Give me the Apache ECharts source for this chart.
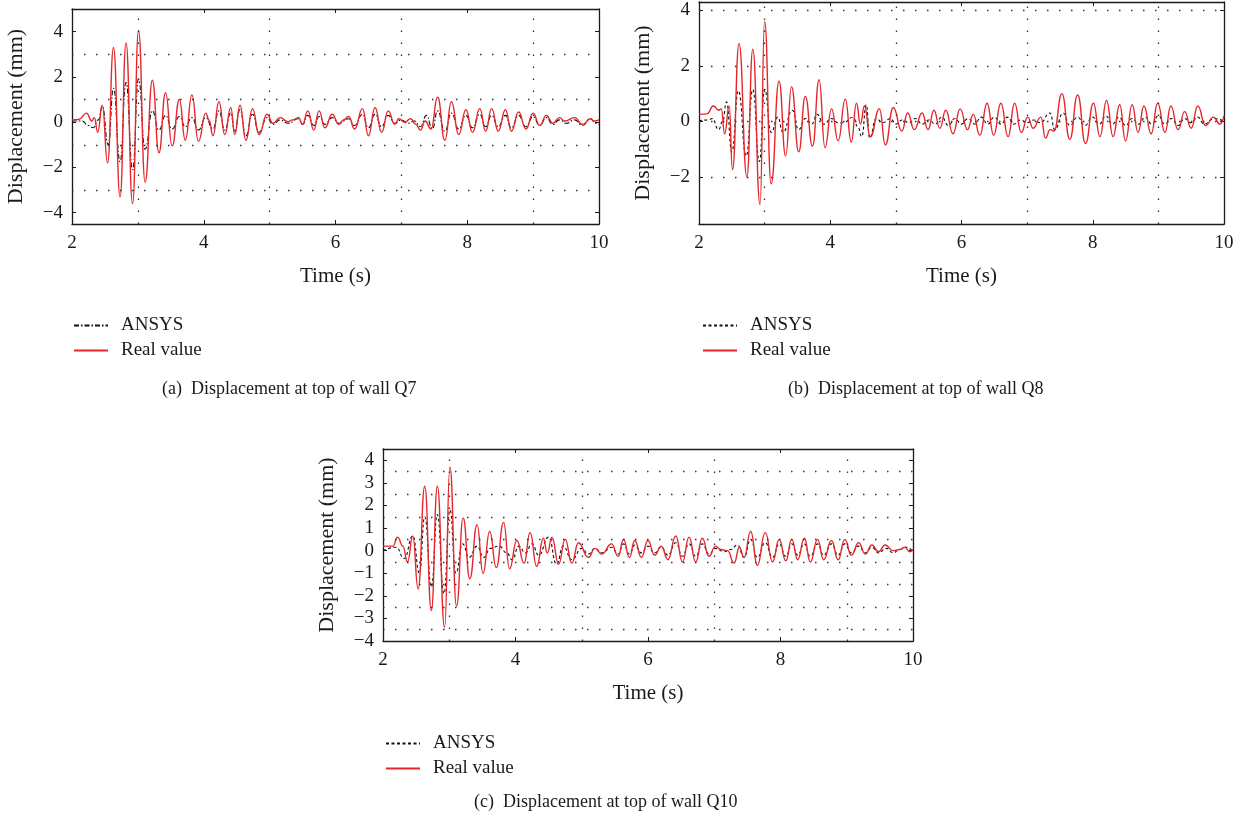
<!DOCTYPE html>
<html>
<head>
<meta charset="utf-8">
<script src="https://cdn.jsdelivr.net/npm/echarts@6/dist/echarts.min.js"></script>
<style>html,body{margin:0;padding:0;background:#fff}#c{width:1249px;height:822px}</style>
</head>
<body>
<div id="c"></div>
<script>
// ---------- data (time s, displacement mm) ----------
const realA = [[2.0,0.1],[2.1,0.12],[2.22,0.4],[2.3,0.05],[2.34,0.2],[2.39,-0.45],[2.46,0.75],[2.54,-1.8],[2.63,3.3],[2.73,-3.3],[2.82,3.5],[2.92,-3.6],[3.01,4.05],[3.11,-2.65],[3.22,1.85],[3.32,-1.35],[3.42,1.3],[3.52,-1.05],[3.63,1.0],[3.72,-0.8],[3.82,1.2],[3.92,-0.85],[4.03,0.4],[4.08,0.1],[4.14,-0.6],[4.23,0.9],[4.32,-0.55],[4.41,0.65],[4.47,-0.55],[4.55,0.75],[4.64,-0.8],[4.74,0.6],[4.84,-0.55],[4.96,0.35],[5.05,-0.05],[5.16,0.2],[5.28,0.02],[5.35,0.1],[5.44,0.2],[5.5,-0.1],[5.58,0.5],[5.67,-0.35],[5.75,0.5],[5.84,-0.25],[5.95,0.35],[6.05,-0.1],[6.12,0.1],[6.2,0.25],[6.29,-0.3],[6.41,0.6],[6.5,-0.6],[6.6,0.65],[6.7,-0.45],[6.8,0.5],[6.9,-0.1],[6.96,0.15],[7.05,0.0],[7.14,0.15],[7.22,-0.1],[7.29,-0.35],[7.36,0.05],[7.45,-0.3],[7.55,1.1],[7.66,-0.8],[7.76,0.9],[7.87,-0.55],[7.98,0.55],[8.08,-0.45],[8.19,0.6],[8.28,-0.4],[8.37,0.6],[8.47,-0.4],[8.58,0.55],[8.67,-0.4],[8.78,0.45],[8.89,-0.3],[9.0,0.4],[9.1,-0.15],[9.2,0.3],[9.3,-0.05],[9.4,0.2],[9.48,0.05],[9.63,0.2],[9.75,-0.1],[9.87,0.15],[9.93,0.05],[10.0,0.1]];
const ansysA = [[2.0,0.05],[2.15,0.05],[2.25,-0.15],[2.32,-0.25],[2.4,0.1],[2.46,0.7],[2.55,-1.0],[2.63,1.5],[2.73,-1.75],[2.82,1.75],[2.92,-2.1],[3.01,1.9],[3.11,-1.2],[3.22,0.5],[3.32,-0.35],[3.42,0.3],[3.52,-0.3],[3.63,0.25],[3.72,-0.2],[3.82,0.2],[3.92,-0.35],[4.03,0.2],[4.14,-0.3],[4.23,0.5],[4.32,-0.35],[4.41,0.4],[4.47,-0.4],[4.55,0.55],[4.64,-0.6],[4.74,0.35],[4.84,-0.45],[4.96,0.2],[5.05,-0.1],[5.16,0.1],[5.28,-0.05],[5.44,0.15],[5.5,-0.1],[5.58,0.3],[5.67,-0.15],[5.75,0.25],[5.84,-0.1],[5.95,0.2],[6.05,-0.05],[6.2,0.15],[6.29,-0.15],[6.41,0.35],[6.5,-0.25],[6.6,0.35],[6.7,-0.2],[6.8,0.3],[6.9,-0.05],[7.0,0.1],[7.1,-0.05],[7.2,0.05],[7.29,-0.2],[7.38,0.3],[7.47,-0.3],[7.55,0.5],[7.66,-0.4],[7.76,0.4],[7.87,-0.3],[7.98,0.3],[8.08,-0.25],[8.19,0.35],[8.28,-0.2],[8.37,0.3],[8.47,-0.2],[8.58,0.3],[8.67,-0.25],[8.78,0.3],[8.89,-0.2],[9.0,0.25],[9.1,-0.15],[9.2,0.2],[9.3,-0.1],[9.4,0.1],[9.5,-0.05],[9.63,0.1],[9.75,-0.15],[9.87,0.15],[9.95,-0.05],[10.0,-0.1]];
const realB = [[2.0,0.25],[2.12,0.27],[2.22,0.55],[2.3,0.4],[2.34,0.45],[2.39,-0.45],[2.46,0.55],[2.51,-1.75],[2.61,2.8],[2.73,-2.0],[2.82,2.6],[2.93,-3.0],[3.0,3.6],[3.1,-2.25],[3.22,1.45],[3.32,-1.25],[3.41,1.25],[3.52,-1.1],[3.62,0.9],[3.73,-0.9],[3.83,1.5],[3.92,-0.95],[4.02,0.45],[4.12,-0.7],[4.23,0.8],[4.32,-0.75],[4.4,0.65],[4.46,-0.1],[4.52,0.55],[4.61,-0.55],[4.75,0.45],[4.84,-0.85],[4.96,0.5],[5.09,-0.35],[5.18,0.3],[5.28,-0.3],[5.4,0.3],[5.49,-0.3],[5.58,0.4],[5.67,-0.25],[5.76,0.4],[5.87,-0.45],[5.98,0.45],[6.09,-0.3],[6.18,0.25],[6.28,-0.5],[6.39,0.65],[6.49,-0.5],[6.6,0.65],[6.71,-0.55],[6.81,0.65],[6.91,-0.4],[7.01,0.15],[7.09,-0.25],[7.21,0.15],[7.28,-0.6],[7.35,-0.3],[7.41,-0.35],[7.53,1.0],[7.65,-0.65],[7.77,0.95],[7.89,-0.8],[8.01,0.65],[8.11,-0.55],[8.21,0.75],[8.31,-0.55],[8.41,0.6],[8.5,-0.7],[8.6,0.6],[8.69,-0.4],[8.78,0.55],[8.89,-0.45],[8.99,0.65],[9.1,-0.4],[9.19,0.55],[9.3,-0.3],[9.4,0.35],[9.5,-0.25],[9.6,0.55],[9.72,-0.15],[9.84,0.15],[9.94,-0.1],[10.0,0.2]];
const ansysB = [[2.0,0.02],[2.15,0.05],[2.2,0.1],[2.3,-0.3],[2.36,0.0],[2.42,0.7],[2.5,-1.1],[2.6,1.1],[2.72,-1.25],[2.82,1.15],[2.92,-1.45],[3.0,1.15],[3.1,-0.4],[3.2,0.15],[3.28,-0.4],[3.42,0.4],[3.52,-0.3],[3.62,0.1],[3.72,-0.1],[3.8,0.25],[3.9,-0.1],[4.02,0.1],[4.12,-0.05],[4.2,-0.05],[4.35,0.15],[4.42,-0.2],[4.48,-0.55],[4.55,0.6],[4.6,-0.6],[4.7,0.1],[4.8,-0.05],[4.92,0.1],[5.0,-0.1],[5.1,0.05],[5.2,-0.05],[5.3,0.1],[5.4,-0.1],[5.5,0.05],[5.6,-0.1],[5.7,0.15],[5.8,-0.15],[5.9,0.1],[6.0,-0.1],[6.1,0.1],[6.2,-0.1],[6.3,0.15],[6.4,-0.1],[6.5,0.15],[6.6,-0.1],[6.7,0.15],[6.8,-0.1],[6.9,0.05],[7.0,-0.05],[7.1,0.05],[7.2,-0.05],[7.35,0.3],[7.42,-0.3],[7.55,0.3],[7.65,-0.15],[7.77,0.15],[7.88,-0.15],[8.0,0.15],[8.1,-0.1],[8.2,0.2],[8.3,-0.1],[8.4,0.15],[8.5,-0.15],[8.6,0.1],[8.7,-0.1],[8.8,0.15],[8.9,-0.1],[9.0,0.2],[9.1,-0.1],[9.2,0.1],[9.3,-0.15],[9.4,0.1],[9.5,-0.05],[9.6,0.15],[9.7,-0.1],[9.85,0.1],[10.0,0.0]];
const realC = [[2.0,0.2],[2.15,0.2],[2.22,0.6],[2.3,0.2],[2.37,-0.5],[2.45,0.65],[2.53,-1.7],[2.63,2.85],[2.73,-2.65],[2.82,2.85],[2.93,-3.4],[3.01,3.7],[3.11,-2.45],[3.21,1.45],[3.31,-1.25],[3.42,1.15],[3.51,-1.0],[3.61,0.85],[3.71,-0.75],[3.82,1.25],[3.91,-0.8],[4.02,0.45],[4.13,-0.55],[4.22,0.8],[4.32,-0.7],[4.42,0.55],[4.48,-0.1],[4.55,0.6],[4.65,-0.6],[4.75,0.5],[4.85,-0.55],[4.95,0.35],[5.1,-0.3],[5.2,0.1],[5.3,-0.15],[5.45,0.3],[5.55,-0.25],[5.63,0.5],[5.72,-0.3],[5.8,0.45],[5.9,-0.3],[6.0,0.45],[6.1,-0.2],[6.2,0.2],[6.3,-0.4],[6.42,0.65],[6.52,-0.5],[6.62,0.6],[6.72,-0.5],[6.82,0.55],[6.92,-0.25],[7.02,0.2],[7.1,0.05],[7.2,0.0],[7.3,-0.55],[7.38,0.15],[7.45,-0.3],[7.55,0.85],[7.65,-0.65],[7.77,0.8],[7.88,-0.5],[7.98,0.5],[8.08,-0.45],[8.17,0.5],[8.26,-0.4],[8.36,0.55],[8.45,-0.5],[8.56,0.5],[8.65,-0.4],[8.77,0.45],[8.87,-0.4],[8.97,0.5],[9.07,-0.2],[9.18,0.35],[9.28,-0.15],[9.38,0.25],[9.48,-0.05],[9.58,0.25],[9.7,0.0],[9.8,0.05],[9.88,0.15],[9.95,-0.05],[10.0,0.05]];
const ansysC = [[2.0,0.0],[2.2,0.15],[2.32,-0.35],[2.45,0.65],[2.55,-1.0],[2.63,1.5],[2.73,-1.6],[2.82,1.6],[2.92,-1.9],[3.01,1.8],[3.1,-1.0],[3.2,0.3],[3.3,-0.3],[3.42,0.2],[3.52,-0.3],[3.62,0.1],[3.75,0.2],[3.87,-0.1],[3.95,-0.4],[4.05,0.2],[4.15,-0.1],[4.25,0.3],[4.35,-0.2],[4.5,0.6],[4.62,-0.6],[4.72,0.2],[4.85,-0.4],[5.0,0.1],[5.1,-0.15],[5.2,0.1],[5.3,-0.1],[5.45,0.15],[5.55,-0.15],[5.63,0.3],[5.72,-0.15],[5.8,0.25],[5.9,-0.1],[6.0,0.2],[6.1,-0.1],[6.2,0.15],[6.3,-0.2],[6.42,0.35],[6.52,-0.25],[6.62,0.3],[6.72,-0.25],[6.82,0.3],[6.92,-0.15],[7.02,0.1],[7.15,-0.05],[7.25,0.05],[7.35,0.25],[7.45,-0.3],[7.55,0.5],[7.65,-0.3],[7.77,0.35],[7.88,-0.3],[7.98,0.3],[8.08,-0.25],[8.17,0.3],[8.26,-0.2],[8.36,0.3],[8.45,-0.25],[8.56,0.3],[8.65,-0.2],[8.77,0.3],[8.87,-0.2],[8.97,0.3],[9.07,-0.1],[9.18,0.2],[9.28,-0.1],[9.38,0.15],[9.48,-0.1],[9.6,0.1],[9.7,-0.1],[9.8,0.05],[9.9,0.15],[10.0,-0.05]];

// ---------- ticks / grid lines ----------
const xTicks = [2, 4, 6, 8, 10];
const xGridLines = [3, 5, 7, 9];
const yTicksA = [-4, -2, 0, 2, 4];
const yGridA = [-3, -1, 1, 3];
const yTicksB = [-2, 0, 2, 4];
const yGridB = [-2, 0, 2, 4];
const yTicksC = [-4, -3, -2, -1, 0, 1, 2, 3, 4];
const yGridC = [-3.5, -2.5, -1.5, -0.5, 0.5, 1.5, 2.5, 3.5];
const yRangeA = [-4.5, 5];
const yRangeB = [-3.7, 4.3];
const yRangeC = [-4, 4.5];
const xRange = [2, 10];

const captions = ['(a)  Displacement at top of wall Q7', '(b)  Displacement at top of wall Q8', '(c)  Displacement at top of wall Q10'];
const seriesNames = ['ANSYS', 'Real value'];
const xName = 'Time (s)';
const yName = 'Displacement (mm)';

// ---------- layout ----------
const FONT = "'Liberation Serif', 'DejaVu Serif', serif";
const INK = '#1a1a1a';
const RED = '#e5262b';
const panels = [
  { key: 'a', grid: { left: 72, top: 9, width: 527, height: 215 }, yr: yRangeA, yt: yTicksA, yg: yGridA, real: realA, ansys: ansysA, ansysType: [5, 2, 1.5, 2], legend: { left: 68, top: 311 }, cap: { left: 162, top: 380 } },
  { key: 'b', grid: { left: 699, top: 2, width: 525, height: 222 }, yr: yRangeB, yt: yTicksB, yg: yGridB, real: realB, ansys: ansysB, ansysType: [3, 2.5], legend: { left: 697, top: 311 }, cap: { left: 788, top: 380 } },
  { key: 'c', grid: { left: 383, top: 449, width: 530, height: 192 }, yr: yRangeC, yt: yTicksC, yg: yGridC, real: realC, ansys: ansysC, ansysType: [3, 2.5], legend: { left: 380, top: 729 }, cap: { left: 474, top: 793 } }
];

const fmt = v => String(v).replace('-', '\u2212');
const grids = [], xAxes = [], yAxes = [], series = [], legends = [], titles = [];
panels.forEach((p, i) => {
  grids.push(p.grid);
  const axLine = { show: true, onZero: false, lineStyle: { color: INK, width: 1.3 } };
  const tick = vals => ({ show: true, inside: true, length: 4, customValues: vals, lineStyle: { color: INK } });
  xAxes.push({
    type: 'value', gridIndex: i, min: xRange[0], max: xRange[1], position: 'bottom',
    axisLine: axLine, splitLine: { show: false }, axisTick: tick(xTicks),
    axisLabel: { customValues: xTicks, formatter: fmt, margin: 10, color: INK, fontFamily: FONT, fontSize: 19 },
    name: xName, nameLocation: 'middle', nameGap: 42,
    nameTextStyle: { color: INK, fontFamily: FONT, fontSize: 21 }
  });
  xAxes.push({
    type: 'value', gridIndex: i, min: xRange[0], max: xRange[1], position: 'top',
    axisLine: axLine, splitLine: { show: false }, axisTick: tick(xTicks),
    axisLabel: { show: false }
  });
  yAxes.push({
    type: 'value', gridIndex: i, min: p.yr[0], max: p.yr[1], position: 'left',
    axisLine: axLine, splitLine: { show: false }, axisTick: tick(p.yt),
    axisLabel: { customValues: p.yt, formatter: fmt, margin: 9, color: INK, fontFamily: FONT, fontSize: 19 },
    name: yName, nameLocation: 'middle', nameGap: 45, nameRotate: 90,
    nameTextStyle: { color: INK, fontFamily: FONT, fontSize: 22 }
  });
  yAxes.push({
    type: 'value', gridIndex: i, min: p.yr[0], max: p.yr[1], position: 'right',
    axisLine: axLine, splitLine: { show: false }, axisTick: tick(p.yt),
    axisLabel: { show: false }
  });
  const xi = i * 2, yi = i * 2;
  // dotted grid lines
  series.push({
    type: 'line', xAxisIndex: xi, yAxisIndex: yi, data: [], z: 1, silent: true,
    markLine: {
      silent: true, symbol: ['none', 'none'], label: { show: false }, animation: false,
      lineStyle: { type: [1.5, 10.5], color: '#333', width: 1.3 },
      emphasis: { disabled: true },
      data: xGridLines.map(v => ({ xAxis: v })).concat(p.yg.map(v => ({ yAxis: v })))
    }
  });
  series.push({
    name: seriesNames[0] + '#' + p.key, type: 'line', xAxisIndex: xi, yAxisIndex: yi,
    data: p.ansys, showSymbol: false, symbol: 'none', smooth: 0.5, smoothMonotone: 'x', z: 3,
    lineStyle: { color: '#111', width: 1.1, type: p.ansysType }, itemStyle: { color: '#111' }
  });
  series.push({
    name: seriesNames[1] + '#' + p.key, type: 'line', xAxisIndex: xi, yAxisIndex: yi,
    data: p.real, showSymbol: false, symbol: 'none', smooth: 0.5, smoothMonotone: 'x', z: 4,
    lineStyle: { color: RED, width: 1.4 }, itemStyle: { color: RED }
  });
  legends.push({
    left: p.legend.left, top: p.legend.top, orient: 'vertical', selectedMode: false,
    itemWidth: 34, itemHeight: 14, itemGap: 6,
    itemStyle: { color: 'rgba(0,0,0,0)', borderWidth: 0, opacity: 0 },
    data: seriesNames.map(n => n + '#' + p.key),
    formatter: n => n.split('#')[0],
    textStyle: { color: INK, fontFamily: FONT, fontSize: 19, padding: [0, 0, 0, 8] }
  });
  titles.push({
    text: captions[i], left: p.cap.left, top: p.cap.top, padding: 0,
    textStyle: { color: INK, fontFamily: FONT, fontSize: 18, fontWeight: 'normal' }
  });
});

const chart = echarts.init(document.getElementById('c'), null, { renderer: 'canvas' });
chart.setOption({
  animation: false,
  backgroundColor: '#fff',
  title: titles,
  grid: grids,
  xAxis: xAxes,
  yAxis: yAxes,
  legend: legends,
  series: series
});
</script>
</body>
</html>
